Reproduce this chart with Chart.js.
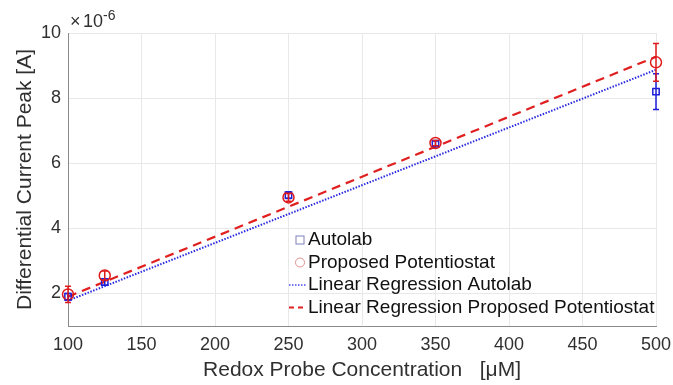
<!DOCTYPE html>
<html>
<head>
<meta charset="utf-8">
<script src="https://cdn.jsdelivr.net/npm/chart.js@4.4.1/dist/chart.umd.min.js"></script>
<style>
  html, body { margin: 0; padding: 0; background: #fff; }
  #wrap { width: 673px; height: 385px; }
</style>
</head>
<body>
<div id="wrap"><canvas id="myChart" width="673" height="385"></canvas></div>
<script>
// concentrations in uM
const concentrations = [100, 125, 250, 350, 500];
// peak currents, units of 1e-6 A
const autolabPeak = [1.9, 2.35, 5.02, 6.6, 8.2];
const autolabErr = [0.1, 0.1, 0.1, 0.08, 0.55];
const proposedPeak = [1.97, 2.55, 4.95, 6.62, 9.1];
const proposedErr = [0.25, 0.14, 0.12, 0.08, 0.58];
// regression line end points
const fitX = [100, 500];
const fitAutolab = [1.78, 8.87];
const fitProposed = [1.9, 9.27];

const xTicks = [100, 150, 200, 250, 300, 350, 400, 450, 500];
const yTicks = [2, 4, 6, 8, 10];

const fontName = '"Liberation Sans", Arial, sans-serif';
const textColor = '#303030';

function pts(xs, ys) {
  return xs.map((x, i) => ({ x: x, y: ys[i] }));
}

// error bars, drawn through the chart scales
const errorBars = {
  id: 'errorBars',
  afterDatasetsDraw(chart) {
    const ctx = chart.ctx;
    const xs = chart.scales.x, ys = chart.scales.y;
    chart.data.datasets.forEach((ds) => {
      if (!ds.errors) return;
      ctx.save();
      ctx.strokeStyle = ds.borderColor;
      ctx.lineWidth = 1.5;
      ds.data.forEach((p, i) => {
        const px = xs.getPixelForValue(p.x);
        const top = ys.getPixelForValue(p.y + ds.errors[i]);
        const bot = ys.getPixelForValue(p.y - ds.errors[i]);
        ctx.beginPath();
        ctx.moveTo(px, top); ctx.lineTo(px, bot);
        ctx.moveTo(px - 3, top); ctx.lineTo(px + 3, top);
        ctx.moveTo(px - 3, bot); ctx.lineTo(px + 3, bot);
        ctx.stroke();
      });
      ctx.restore();
    });
  }
};

// exponent label and legend inside the axes
const extras = {
  id: 'extras',
  afterDraw(chart) {
    const ctx = chart.ctx;
    ctx.save();
    ctx.fillStyle = textColor;
    ctx.textBaseline = 'alphabetic';
    ctx.font = '18px ' + fontName;
    ctx.fillText('\u00d7', 70, 27);
    ctx.fillText('10', 83, 27);
    ctx.font = '14px ' + fontName;
    ctx.fillText('-6', 103, 20);

    // legend
    const lx = 290, ly = 240, gap = 22.5;
    ctx.font = '19px ' + fontName;
    ctx.textBaseline = 'middle';
    const labels = chart.data.datasets.map(d => d.label);
    labels.forEach((t, i) => {
      ctx.fillStyle = '#111';
      ctx.fillText(t, lx + 18, ly + i * gap);
    });
    ctx.lineWidth = 1;
    ctx.strokeStyle = '#8080c0';
    ctx.strokeRect(lx + 6, ly - 4, 8, 8);
    ctx.strokeStyle = '#e09090';
    ctx.beginPath();
    ctx.arc(lx + 10, ly + gap, 4.5, 0, Math.PI * 2);
    ctx.stroke();
    ctx.lineWidth = 1.5;
    ctx.strokeStyle = '#4a4af0';
    ctx.setLineDash([1.5, 1.5]);
    ctx.beginPath();
    ctx.moveTo(lx - 1, ly + 2 * gap); ctx.lineTo(lx + 17, ly + 2 * gap);
    ctx.stroke();
    ctx.strokeStyle = '#e02020';
    ctx.lineWidth = 2;
    ctx.setLineDash([5, 4]);
    ctx.beginPath();
    ctx.moveTo(lx - 1, ly + 3 * gap); ctx.lineTo(lx + 17, ly + 3 * gap);
    ctx.stroke();
    ctx.restore();
  }
};

new Chart(document.getElementById('myChart'), {
  type: 'scatter',
  data: {
    datasets: [
      {
        label: 'Autolab',
        data: pts(concentrations, autolabPeak),
        errors: autolabErr,
        borderColor: '#1f1fd8',
        backgroundColor: 'rgba(0,0,0,0)',
        pointStyle: 'rect',
        pointRadius: 4.5,
        borderWidth: 1.5,
        clip: false,
        order: 2
      },
      {
        label: 'Proposed Potentiostat',
        data: pts(concentrations, proposedPeak),
        errors: proposedErr,
        borderColor: '#e01a1a',
        backgroundColor: 'rgba(0,0,0,0)',
        pointStyle: 'circle',
        pointRadius: 5.5,
        borderWidth: 1.5,
        clip: false,
        order: 1
      },
      {
        label: 'Linear Regression Autolab',
        type: 'line',
        data: pts(fitX, fitAutolab),
        borderColor: '#2a2ae0',
        borderWidth: 2,
        borderDash: [1.5, 1.5],
        pointRadius: 0,
        fill: false,
        order: 4
      },
      {
        label: 'Linear Regression Proposed Potentiostat',
        type: 'line',
        data: pts(fitX, fitProposed),
        borderColor: '#e02020',
        borderWidth: 2.2,
        borderDash: [9, 6],
        pointRadius: 0,
        fill: false,
        order: 3
      }
    ]
  },
  options: {
    responsive: false,
    animation: false,
    layout: { padding: { top: 33, right: 17, left: 0, bottom: 0 } },
    plugins: {
      legend: { display: false },
      tooltip: { enabled: false }
    },
    scales: {
      x: {
        type: 'linear',
        min: 100,
        max: 500,
        afterBuildTicks: (axis) => { axis.ticks = xTicks.map(v => ({ value: v })); },
        afterFit: (scale) => {
          scale.height = 59;
          scale.paddingLeft = 0;
          scale.paddingRight = 0;
        },
        grid: { color: '#e8e8e8', drawTicks: false },
        border: { color: '#8a8a8a', width: 1 },
        ticks: { color: textColor, font: { family: fontName, size: 18 }, padding: 8 },
        title: {
          display: true,
          text: 'Redox Probe Concentration   [\u03bcM]',
          color: textColor,
          font: { family: fontName, size: 21 },
          padding: { top: 0, bottom: 2 }
        }
      },
      y: {
        type: 'linear',
        min: 1,
        max: 10,
        afterBuildTicks: (axis) => { axis.ticks = yTicks.map(v => ({ value: v })); },
        afterFit: (scale) => { scale.width = 68; },
        grid: { color: '#e8e8e8', drawTicks: false },
        border: { color: '#8a8a8a', width: 1 },
        ticks: { color: textColor, font: { family: fontName, size: 18 }, padding: 7 },
        title: {
          display: true,
          text: 'Differential Current Peak [A]',
          color: textColor,
          font: { family: fontName, size: 21 },
          padding: { top: 13, bottom: 0 }
        }
      }
    }
  },
  plugins: [errorBars, extras]
});
</script>
</body>
</html>
